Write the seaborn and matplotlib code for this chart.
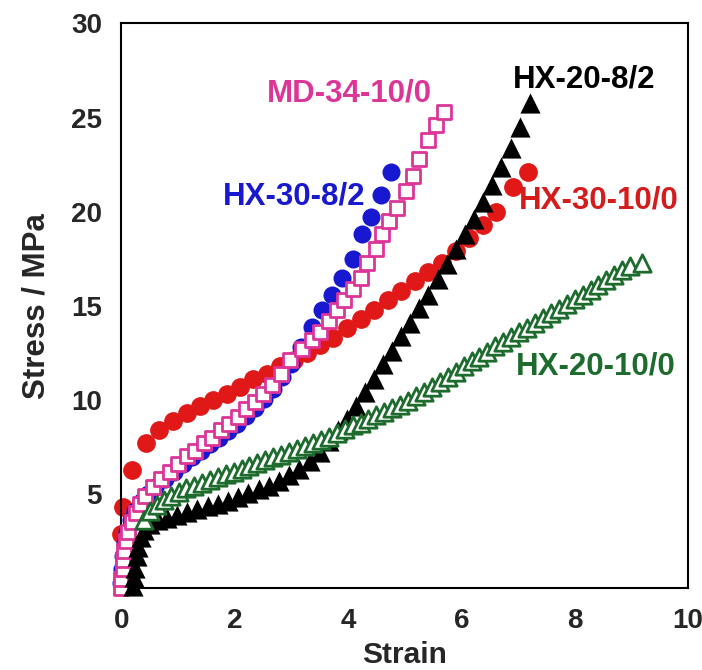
import matplotlib
matplotlib.use("Agg")
import matplotlib.pyplot as plt
import seaborn as sns
from matplotlib.ticker import MultipleLocator

sns.set_style("white")
plt.rcParams['font.family'] = ['Liberation Sans', 'DejaVu Sans']
plt.rcParams['font.weight'] = 'bold'

# HX-30-10/0 (red filled circles)
red_x = [0.0, 0.02, 0.19, 0.43, 0.67, 0.91, 1.15, 1.39, 1.62, 1.86, 2.10, 2.33, 2.57, 2.80,
         3.04, 3.27, 3.50, 3.74, 3.98, 4.22, 4.46, 4.70, 4.94, 5.18, 5.42, 5.66, 5.90, 6.14,
         6.38, 6.62, 6.92, 7.17]
red_y = [2.9, 4.3, 6.3, 7.7, 8.4, 8.9, 9.3, 9.7, 10.0, 10.3, 10.7, 11.1, 11.4, 11.8,
         12.1, 12.5, 12.9, 13.3, 13.8, 14.3, 14.8, 15.3, 15.8, 16.3, 16.8, 17.3, 17.9, 18.6,
         19.3, 20.0, 21.3, 22.1]

# HX-30-8/2 (blue filled circles)
blue_x = [0.0, 0.01, 0.03, 0.06, 0.10, 0.16, 0.24, 0.34, 0.46, 0.60, 0.76, 0.92, 1.08, 1.24,
          1.40, 1.56, 1.72, 1.88, 2.04, 2.20, 2.36, 2.52, 2.68, 2.84, 3.00, 3.17, 3.37, 3.54,
          3.72, 3.90, 4.08, 4.25, 4.40, 4.58, 4.75]
blue_y = [0.3, 1.0, 1.7, 2.4, 3.0, 3.6, 4.1, 4.6, 5.0, 5.4, 5.8, 6.2, 6.6, 6.95,
          7.3, 7.65, 8.0, 8.35, 8.75, 9.15, 9.6, 10.05, 10.6, 11.2, 11.9, 12.8, 13.9, 14.8,
          15.6, 16.5, 17.5, 18.8, 19.7, 20.9, 22.1]

# MD-34-10/0 (open pink squares)
pink_x = [0.0, 0.0, 0.02, 0.03, 0.05, 0.08, 0.12, 0.18, 0.25, 0.33, 0.42, 0.55, 0.70, 0.85,
          1.00, 1.15, 1.30, 1.45, 1.60, 1.75, 1.90, 2.05, 2.20, 2.35, 2.50, 2.65, 2.82, 2.98,
          3.19, 3.37, 3.51, 3.66, 3.81, 3.93, 4.08, 4.22, 4.34, 4.49, 4.60, 4.72, 4.87, 5.02,
          5.14, 5.26, 5.41, 5.56, 5.69]
pink_y = [0.0, 0.5, 1.0, 1.5, 2.0, 2.5, 3.0, 3.5, 4.0, 4.5, 4.9, 5.4, 5.8, 6.2,
          6.6, 7.0, 7.3, 7.7, 8.0, 8.4, 8.7, 9.1, 9.5, 9.9, 10.3, 10.8, 11.4, 12.1,
          12.7, 13.2, 13.6, 14.2, 14.8, 15.3, 15.9, 16.5, 17.3, 18.0, 18.8, 19.5, 20.2, 21.1,
          21.9, 22.8, 23.8, 24.6, 25.3]

# HX-20-8/2 (black filled triangles)
black_x = [0.20, 0.22, 0.24, 0.27, 0.30, 0.34, 0.40, 0.50, 0.65, 0.80, 0.98, 1.16, 1.34, 1.52,
           1.70, 1.88, 2.06, 2.24, 2.42, 2.60, 2.78, 2.96, 3.14, 3.32, 3.50, 3.66, 3.82, 3.98,
           4.14, 4.30, 4.46, 4.62, 4.78, 4.94, 5.10, 5.26, 5.42, 5.58, 5.74, 5.90, 6.06, 6.22,
           6.38, 6.54, 6.70, 6.87, 7.04, 7.22]
black_y = [0.1, 0.6, 1.1, 1.7, 2.2, 2.7, 3.1, 3.4, 3.6, 3.75, 3.9, 4.05, 4.2, 4.35,
           4.5, 4.65, 4.85, 5.05, 5.25, 5.45, 5.7, 6.0, 6.35, 6.75, 7.25, 7.8, 8.4, 9.0,
           9.7, 10.4, 11.1, 11.9, 12.6, 13.4, 14.1, 14.9, 15.6, 16.4, 17.2, 18.0, 18.8, 19.6,
           20.5, 21.4, 22.4, 23.4, 24.5, 25.8]

# HX-20-10/0 (open green triangles)
green_x = [0.40, 0.50, 0.62, 0.75, 0.88, 1.01, 1.14, 1.28, 1.42, 1.56, 1.70,
           1.84, 1.98, 2.12, 2.26, 2.40, 2.54, 2.68, 2.82, 2.96, 3.10, 3.24, 3.38, 3.52, 3.66,
           3.80, 3.94, 4.08, 4.22, 4.36, 4.50, 4.64, 4.78, 4.92, 5.06, 5.20, 5.34, 5.48, 5.62,
           5.76, 5.90, 6.04, 6.18, 6.32, 6.46, 6.60, 6.74, 6.88, 7.02, 7.16, 7.30, 7.44, 7.58,
           7.72, 7.86, 8.00, 8.14, 8.28, 8.42, 8.56, 8.70, 8.84, 8.98, 9.18]
green_y = [3.6, 4.1, 4.4, 4.7, 4.9, 5.1, 5.3, 5.45, 5.6, 5.75, 5.9,
           6.05, 6.2, 6.35, 6.5, 6.65, 6.8, 6.95, 7.1, 7.25, 7.4, 7.55, 7.7, 7.85, 8.05,
           8.25, 8.45, 8.65, 8.8, 9.0, 9.2, 9.35, 9.55, 9.75, 9.95, 10.2, 10.4, 10.7, 10.95,
           11.2, 11.5, 11.8, 12.05, 12.3, 12.55, 12.85, 13.1, 13.35, 13.6, 13.85, 14.1, 14.35, 14.6,
           14.85, 15.1, 15.35, 15.6, 15.85, 16.1, 16.35, 16.65, 16.9, 17.1, 17.3]

y_ticks = [0, 5, 10, 15, 20, 25, 30]
y_ticklabels = ['', '5', '10', '15', '20', '25', '30']
x_ticks = [0, 2, 4, 6, 8, 10]

RED = '#e01818'
BLUE = '#1818d0'
PINK = '#dc3597'
GREEN = '#1e6b2e'

fig = plt.figure(figsize=(7.02, 6.70), dpi=100)
ax = fig.add_axes([0.173, 0.122, 0.807, 0.843])

sns.scatterplot(x=red_x, y=red_y, ax=ax, marker='o', s=13.5 ** 2, color=RED,
                edgecolor=RED, linewidth=0, clip_on=False, zorder=2)
sns.scatterplot(x=blue_x, y=blue_y, ax=ax, marker='o', s=13 ** 2, color=BLUE,
                edgecolor=BLUE, linewidth=0, clip_on=False, zorder=3)
sns.scatterplot(x=pink_x, y=pink_y, ax=ax, marker='s', s=10 ** 2, color='white',
                edgecolor=PINK, linewidth=2, clip_on=False, zorder=4)
sns.scatterplot(x=black_x, y=black_y, ax=ax, marker='^', s=14.5 ** 2, color='black',
                edgecolor='black', linewidth=0, clip_on=False, zorder=5)
sns.scatterplot(x=green_x, y=green_y, ax=ax, marker='^', s=12.5 ** 2, color='white',
                edgecolor=GREEN, linewidth=2, clip_on=False, zorder=6)

fs = 22.5
ax.text(4.03, 26.3, 'MD-34-10/0', color=PINK, fontsize=fs, fontweight='bold', ha='center', va='center')
ax.text(3.04, 20.8, 'HX-30-8/2', color=BLUE, fontsize=fs, fontweight='bold', ha='center', va='center')
ax.text(8.17, 27.0, 'HX-20-8/2', color='black', fontsize=fs, fontweight='bold', ha='center', va='center')
ax.text(8.43, 20.6, 'HX-30-10/0', color='#d41c1c', fontsize=fs, fontweight='bold', ha='center', va='center')
ax.text(8.37, 11.77, 'HX-20-10/0', color=GREEN, fontsize=fs, fontweight='bold', ha='center', va='center')

ax.set_xlim(0, 10)
ax.set_ylim(0, 30)
ax.set_xticks(x_ticks)
ax.set_yticks(y_ticks)
ax.set_yticklabels(y_ticklabels)
ax.xaxis.set_minor_locator(MultipleLocator(0.5))
ax.yaxis.set_minor_locator(MultipleLocator(1))
ax.tick_params(which='both', direction='in', top=False, right=False, width=1.5, color='black')
ax.tick_params(which='major', length=7, labelsize=20, pad=14)
ax.tick_params(which='minor', length=4)
for lab in ax.get_xticklabels() + ax.get_yticklabels():
    lab.set_fontweight('bold')
for sp in ax.spines.values():
    sp.set_visible(True)
    sp.set_color('black')
    sp.set_linewidth(1.5)

ax.set_xlabel('Strain', fontsize=21.5, fontweight='bold', labelpad=5)
ax.set_ylabel('Stress / MPa', fontsize=22.5, fontweight='bold', labelpad=14)

fig.savefig('out.png', dpi=100)
